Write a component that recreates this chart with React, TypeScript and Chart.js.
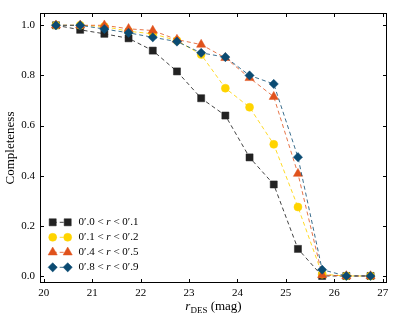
import React, { useEffect, useRef } from "react";
import { Chart, registerables } from "chart.js";

Chart.register(...registerables);

const mags = [20.25, 20.75, 21.25, 21.75, 22.25, 22.75, 23.25, 23.75, 24.25, 24.75, 25.25, 25.75, 26.25, 26.75];
const comp00_01 = [1.0, 0.982, 0.966, 0.948, 0.899, 0.816, 0.709, 0.64, 0.473, 0.365, 0.108, 0.0, 0.0, 0.0];
const comp01_02 = [1.0, 1.0, 0.995, 0.976, 0.966, 0.939, 0.883, 0.749, 0.673, 0.525, 0.275, 0.007, 0.0, 0.0];
const comp04_05 = [1.0, 1.0, 1.0, 0.986, 0.979, 0.943, 0.923, 0.87, 0.79, 0.715, 0.408, 0.004, 0.0, 0.0];
const comp08_09 = [1.0, 1.0, 0.985, 0.97, 0.952, 0.935, 0.89, 0.873, 0.8, 0.766, 0.474, 0.025, 0.0, 0.0];

const seriesLabels = [
  ["0\u2032.0 < ", "r", " < 0\u2032.1"],
  ["0\u2032.1 < ", "r", " < 0\u2032.2"],
  ["0\u2032.4 < ", "r", " < 0\u2032.5"],
  ["0\u2032.8 < ", "r", " < 0\u2032.9"],
];
const seriesColors = ["#222222", "#ffd400", "#e0521c", "#0b4b72"];
const lineColors = ["rgba(34,34,34,0.85)", "rgba(255,212,0,0.85)", "rgba(224,82,28,0.8)", "rgba(11,75,114,0.8)"];
const seriesStyles = ["rect", "circle", "triangle", "rectRot"];
const seriesRadii = [5, 4, 5.3, 4.6];
const seriesData = [comp00_01, comp01_02, comp04_05, comp08_09];

const xTicks = [20, 21, 22, 23, 24, 25, 26, 27];
const yTicks = [0.0, 0.2, 0.4, 0.6, 0.8, 1.0];

const SERIF = "'Liberation Serif', 'Times New Roman', serif";

const decorPlugin = {
  id: "decor",
  afterDraw(chart: any) {
    const ctx = chart.ctx;
    const { left, right, top, bottom } = chart.chartArea;
    const xs = chart.scales.x;
    const ys = chart.scales.y;
    ctx.save();
    // frame
    ctx.strokeStyle = "#000";
    ctx.lineWidth = 1;
    ctx.setLineDash([]);
    ctx.strokeRect(left + 0.5, top + 0.5, right - left - 1, bottom - top - 1);
    // ticks inside
    const tl = 4;
    ctx.beginPath();
    xTicks.forEach((v) => {
      const px = Math.round(xs.getPixelForValue(v)) + 0.5;
      ctx.moveTo(px, bottom);
      ctx.lineTo(px, bottom - tl);
      ctx.moveTo(px, top);
      ctx.lineTo(px, top + tl);
    });
    yTicks.forEach((v) => {
      const py = Math.round(ys.getPixelForValue(v)) + 0.5;
      ctx.moveTo(left, py);
      ctx.lineTo(left + tl, py);
      ctx.moveTo(right, py);
      ctx.lineTo(right - tl, py);
    });
    ctx.stroke();

    // legend
    const lx1 = 52.7;
    const lx2 = 67.7;
    const tx = 78.5;
    const y0 = 222.3;
    const dy = 15;
    seriesLabels.forEach((lab, i) => {
      const y = y0 + i * dy;
      ctx.strokeStyle = lineColors[i];
      ctx.lineWidth = 1;
      ctx.setLineDash([4, 3]);
      ctx.beginPath();
      ctx.moveTo(lx1, y);
      ctx.lineTo(lx2, y);
      ctx.stroke();
      ctx.setLineDash([]);
      ctx.fillStyle = seriesColors[i];
      ctx.strokeStyle = seriesColors[i];
      ctx.lineWidth = 0.5;
      [lx1, lx2].forEach((lx) => {
        (Chart as any).helpers
          ? null
          : null;
        drawMarker(ctx, seriesStyles[i], seriesRadii[i], lx, y);
      });
      ctx.fillStyle = "#000";
      ctx.textBaseline = "middle";
      ctx.textAlign = "left";
      let x = tx;
      lab.forEach((seg, k) => {
        ctx.font = (k === 1 ? "italic " : "") + "11px " + SERIF;
        ctx.fillText(seg, x, y);
        x += ctx.measureText(seg).width;
      });
    });

    // y axis title
    ctx.fillStyle = "#000";
    ctx.save();
    ctx.translate(11, (top + bottom) / 2);
    ctx.rotate(-Math.PI / 2);
    ctx.font = "13px " + SERIF;
    ctx.textAlign = "center";
    ctx.textBaseline = "middle";
    ctx.fillText("Completeness", 0, 0);
    ctx.restore();

    // x axis title: r_DES (mag)
    const parts = [
      { t: "r", f: "italic 13px " + SERIF, dy: 0 },
      { t: "DES", f: "9px " + SERIF, dy: 2.5 },
      { t: " (mag)", f: "13px " + SERIF, dy: 0 },
    ];
    let total = 0;
    parts.forEach((p) => {
      ctx.font = p.f;
      total += ctx.measureText(p.t).width;
    });
    let cx = (left + right) / 2 - total / 2;
    const by = 310;
    ctx.textAlign = "left";
    ctx.textBaseline = "alphabetic";
    parts.forEach((p) => {
      ctx.font = p.f;
      ctx.fillText(p.t, cx, by + p.dy);
      cx += ctx.measureText(p.t).width;
    });
    ctx.restore();
  },
};

function drawMarker(ctx: CanvasRenderingContext2D, style: string, r: number, x: number, y: number) {
  ctx.beginPath();
  if (style === "rect") {
    const s = r * Math.SQRT1_2;
    ctx.rect(x - s, y - s, 2 * s, 2 * s);
  } else if (style === "circle") {
    ctx.arc(x, y, r, 0, Math.PI * 2);
  } else if (style === "triangle") {
    ctx.moveTo(x, y - r);
    ctx.lineTo(x + r * Math.cos(Math.PI / 6), y + r * 0.5);
    ctx.lineTo(x - r * Math.cos(Math.PI / 6), y + r * 0.5);
    ctx.closePath();
  } else {
    ctx.moveTo(x, y - r);
    ctx.lineTo(x + r, y);
    ctx.lineTo(x, y + r);
    ctx.lineTo(x - r, y);
    ctx.closePath();
  }
  ctx.fill();
  ctx.stroke();
}

export default function App() {
  const ref = useRef<HTMLCanvasElement | null>(null);
  useEffect(() => {
    if (!ref.current) return;
    const datasets = seriesData.map((vals, i) => ({
      label: seriesLabels[i].join(""),
      data: vals.map((v, j) => ({ x: mags[j], y: v })),
      borderColor: lineColors[i],
      backgroundColor: seriesColors[i],
      pointBackgroundColor: seriesColors[i],
      pointBorderColor: seriesColors[i],
      pointBorderWidth: 0.5,
      pointStyle: seriesStyles[i],
      pointRadius: seriesRadii[i],
      borderWidth: 1,
      borderDash: [4, 3],
      fill: false,
      tension: 0,
      order: 4 - i,
    }));
    const chart = new Chart(ref.current, {
      type: "line",
      data: { datasets } as any,
      options: {
        animation: false,
        responsive: false,
        maintainAspectRatio: false,
        layout: { padding: { left: 0, top: 13, right: 12, bottom: 0 } },
        plugins: { legend: { display: false }, tooltip: { enabled: false } },
        scales: {
          x: {
            type: "linear",
            min: 19.92,
            max: 27.09,
            grid: { display: false, drawTicks: false },
            border: { display: false },
            afterBuildTicks: (s: any) => {
              s.ticks = xTicks.map((v) => ({ value: v }));
            },
            afterFit: (s: any) => {
              s.height = 32;
            },
            ticks: {
              color: "#000",
              font: { family: SERIF, size: 11 },
              padding: 4,
              maxRotation: 0,
              autoSkip: false,
              callback: (v: any) => String(v),
            },
          },
          y: {
            type: "linear",
            min: -0.028,
            max: 1.049,
            grid: { display: false, drawTicks: false },
            border: { display: false },
            afterBuildTicks: (s: any) => {
              s.ticks = yTicks.map((v) => ({ value: v }));
            },
            afterFit: (s: any) => {
              s.width = 40;
            },
            ticks: {
              color: "#000",
              font: { family: SERIF, size: 11 },
              padding: 5,
              autoSkip: false,
              callback: (v: any) => Number(v).toFixed(1),
            },
          },
        },
      } as any,
      plugins: [decorPlugin],
    });
    return () => chart.destroy();
  }, []);
  return (
    <div style={{ position: "fixed", left: 0, top: 0, width: 399, height: 315, background: "#fff" }}>
      <canvas ref={ref} width={399} height={315} style={{ width: 399, height: 315, display: "block" }} />
    </div>
  );
}
